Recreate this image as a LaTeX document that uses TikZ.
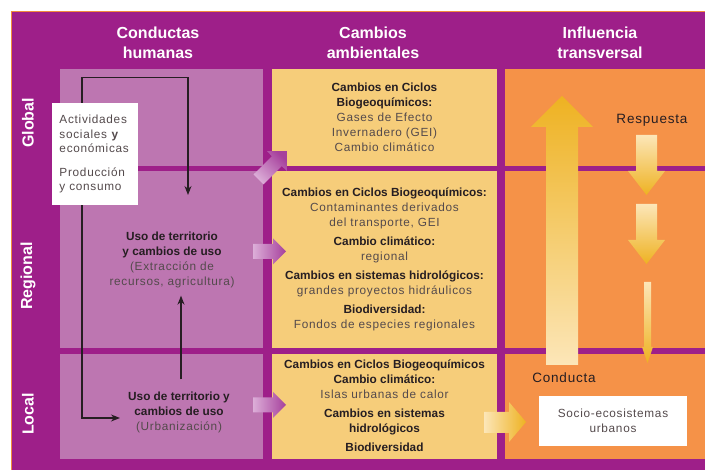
\documentclass[tikz,border=0pt]{standalone}
\usepackage{fontspec}
\setmainfont{Liberation Sans}
\newfontfamily\lite{Liberation Sans}[LetterSpace=6]
\usepackage{xcolor}
\usepackage{tikz}
\usetikzlibrary{arrows.meta}

\definecolor{bgpurple}{RGB}{158,31,137}
\definecolor{lilac}{RGB}{189,118,177}
\definecolor{sand}{RGB}{246,205,122}
\definecolor{tangerine}{RGB}{245,146,72}
\definecolor{edgeorange}{RGB}{240,140,60}
\definecolor{gold}{RGB}{238,178,34}
\definecolor{cream}{RGB}{252,230,184}
\definecolor{palelilac}{RGB}{220,174,216}
\definecolor{deeplilac}{RGB}{166,64,156}
\definecolor{inkdark}{RGB}{38,30,34}
\definecolor{inksoft}{RGB}{84,74,76}

\newcommand\softtext[1]{{\lite\mdseries\color{inksoft}#1}}

\tikzset{
  head/.style={text=white, font=\bfseries\fontsize{16}{19.5}\selectfont, align=center},
  rowlabel/.style={text=white, font=\bfseries\fontsize{16}{19}\selectfont, rotate=90},
  body/.style={text=inkdark, font=\bfseries\fontsize{11.8}{15}\selectfont, align=center, inner sep=2pt},
  conn/.style={draw=inkdark, line width=1.1pt, -{Stealth[length=9pt,width=7pt]}},
}

\begin{document}
\begin{tikzpicture}[x=1pt,y=1pt]
        \useasboundingbox (0,0) rectangle (705,470);
        \fill[bgpurple] (12,0) rectangle (705,458);
        \draw[edgeorange, line width=1.2pt] (11.4,0) -- (11.4,458.6) -- (705,458.6);

        % cells: global, regional, local
        \foreach \ya/\yb in {304/401, 122/299, 11/116} {
            \fill[lilac] (60,\ya) rectangle (263,\yb);
            \fill[sand] (272,\ya) rectangle (497,\yb);
            \fill[tangerine] (505,\ya) rectangle (705,\yb);
        }

        \node[head] (hconductas) at (158,427) {Conductas\\humanas};
        \node[head] (hcambios) at (373,427) {Cambios\\ambientales};
        \node[head] (hinfluencia) at (600,427) {Influencia\\transversal};

        \node[rowlabel] (lglobal) at (28,347) {Global};
        \node[rowlabel] (lregional) at (28,194) {Regional};
        \node[rowlabel] (llocal) at (28,56) {Local};

        % big arrows
        \shade[top color=gold, bottom color=cream] (546,105) -- (546,343) -- (531,343) -- (562,374)
            -- (593,343) -- (578,343) -- (578,105) -- cycle;
        \foreach \cx/\yt/\yb/\yp/\s/\h in {646.5/335/299/275/10.5/18.5, 646.5/266/230/206/10.5/18.5, 647.5/188/123/107/3.5/5.5} {
            \shade[top color=cream, bottom color=gold] ({\cx-\s},\yt) -- ({\cx-\s},\yb) -- ({\cx-\h},\yb) -- (\cx,\yp)
                -- ({\cx+\h},\yb) -- ({\cx+\s},\yb) -- ({\cx+\s},\yt) -- cycle;
        }
        \shade[left color=cream, right color=gold] (484,37) -- (509,37) -- (509,28) -- (526,48)
            -- (509,68) -- (509,58) -- (484,58) -- cycle;
        \foreach \yc in {218.5, 65} {
            \shade[left color=palelilac, right color=deeplilac] (253,\yc-7.5) -- (273,\yc-7.5) -- (273,\yc-13)
                -- (286,\yc) -- (273,\yc+13) -- (273,\yc+7.5) -- (253,\yc+7.5) -- cycle;
        }
        \shade[bottom color=palelilac, top color=deeplilac, shading angle=-45] (263.5,285.5) -- (281.8,303.9)
            -- (286.8,299) -- (286.8,318.8) -- (267,318.8) -- (271.9,313.8) -- (253.5,295.5) -- cycle;

        % conductas humanas
        \node[fill=white, text=inksoft, font=\lite\fontsize{11.8}{14.5}\selectfont, align=left,
            text width=70pt, inner xsep=8pt, minimum height=102pt] (actividades) at (94.5,316)
            {Actividades\\sociales \textbf{y}\\económicas\\[9pt]Producción\\y consumo};
        \node[body] (usoreg) at (172,210.5)
            {Uso de territorio\\y cambios de uso\\\softtext{(Extracción de}\\\softtext{recursos, agricultura)}};
        \node[body] (usoloc) at (179,58)
            {Uso de territorio y\\cambios de uso\\\softtext{(Urbanización)}};

        % cambios ambientales
        \node[body] (ciclosglobal) at (384.5,353)
            {Cambios en Ciclos\\Biogeoquímicos:\\\softtext{Gases de Efecto}\\\softtext{Invernadero (GEI)}\\\softtext{Cambio climático}};
        \node[body] (ciclosreg) at (384.5,211)
            {Cambios en Ciclos Biogeoquímicos:\\\softtext{Contaminantes derivados}\\\softtext{del transporte, GEI}\\[4pt]
             Cambio climático:\\\softtext{regional}\\[4pt]
             Cambios en sistemas hidrológicos:\\\softtext{grandes proyectos hidráulicos}\\[4pt]
             Biodiversidad:\\\softtext{Fondos de especies regionales}};
        \node[body] (cicloslocal) at (384.5,64.5)
            {Cambios en Ciclos Biogeoquímicos\\Cambio climático:\\\softtext{Islas urbanas de calor}\\[4pt]
             Cambios en sistemas\\hidrológicos\\[4pt]Biodiversidad};

        % influencia transversal
        \node[text=inkdark, font=\lite\fontsize{13.5}{16}\selectfont] (respuesta) at (652,350) {Respuesta};
        \node[text=inkdark, font=\lite\fontsize{13.5}{16}\selectfont] (conducta) at (564,92) {Conducta};
        \node[fill=white, text=inksoft, font=\lite\fontsize{11.8}{15}\selectfont, align=center,
            minimum width=148pt, minimum height=50pt] (socio) at (613,49) {Socio-ecosistemas\\urbanos};

        % connectors
        \coordinate (regtop) at (188,275);
        \draw[conn] ([xshift=-12.5pt]actividades.north) -- ++(0,25) -| (regtop);
        \draw[conn] ([xshift=-12.5pt]actividades.south) |- ([xshift=-6pt,yshift=-6pt]usoloc.west);
        \draw[conn] ([xshift=2pt,yshift=10pt]usoloc.north) -- ([xshift=9pt,yshift=-6pt]usoreg.south);
\end{tikzpicture}
\end{document}
